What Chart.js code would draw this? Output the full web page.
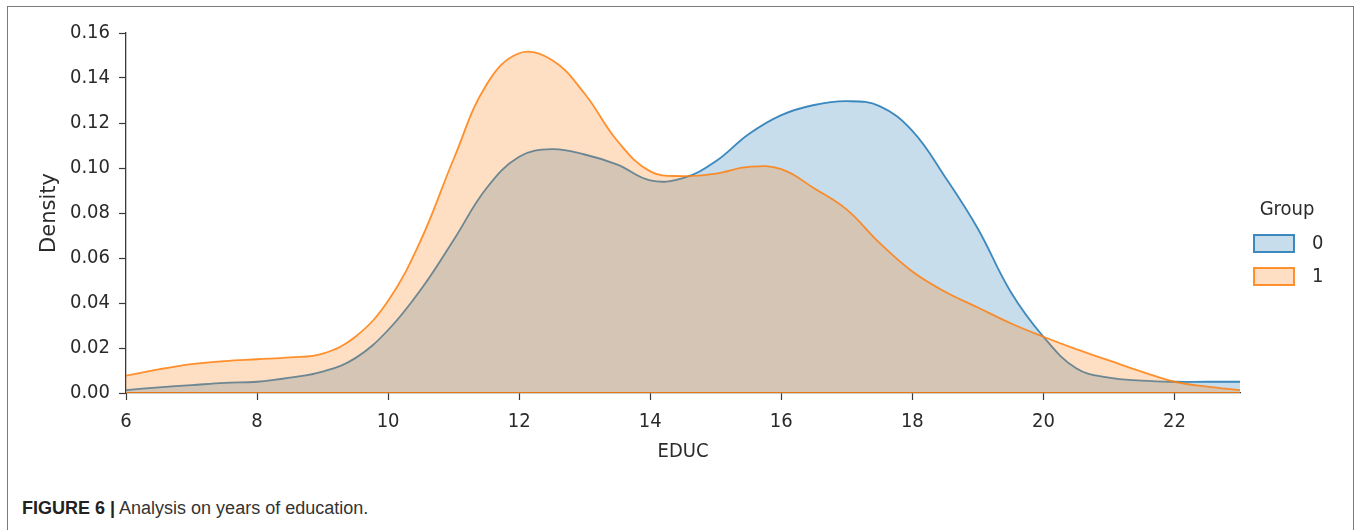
<!DOCTYPE html>
<html>
<head>
<meta charset="utf-8">
<script src="https://cdn.jsdelivr.net/npm/chart.js@4.4.1/dist/chart.umd.min.js"></script>
<style>
  html, body { margin: 0; padding: 0; background: #fff; width: 1360px; height: 530px; overflow: hidden; }
  #frame { position: absolute; left: 7px; top: 6px; width: 1345px; height: 600px; border: 1.5px solid #7a7a7a; }
  #wrap { position: absolute; left: 0; top: 0; width: 1360px; height: 470px; }
  #caption { position: absolute; left: 22px; top: 498px; font-family: "Liberation Sans", Arial, sans-serif; font-size: 18px; color: #333; white-space: nowrap; }
  #caption b { color: #222; }
</style>
</head>
<body>
<div id="frame"></div>
<div id="wrap"><canvas id="kdeChart"></canvas></div>
<div id="caption"><b>FIGURE 6 |</b> Analysis on years of education.</div>
<script>
// anos de educação (grade da curva)
const educ = [6, 6.5, 7, 7.5, 8, 8.5, 9, 9.5, 10, 10.5, 11, 11.5, 12, 12.5, 13, 13.5, 14, 14.5,
              15, 15.5, 16, 16.5, 17, 17.5, 18, 18.5, 19, 19.5, 20, 20.5, 21, 21.5, 22, 22.5, 23];
// densidade grupo 0
const group0 = [0.0013, 0.0025, 0.0035, 0.0045, 0.005, 0.0068, 0.0095, 0.0155, 0.028, 0.046, 0.068, 0.091,
                0.105, 0.1084, 0.106, 0.1015, 0.0945, 0.0955, 0.103, 0.115, 0.1235, 0.128, 0.1297, 0.1275,
                0.1165, 0.096, 0.073, 0.045, 0.025, 0.011, 0.0068, 0.0055, 0.005, 0.005, 0.005];
// densidade grupo 1
const group1 = [0.0077, 0.0105, 0.0128, 0.0142, 0.015, 0.0158, 0.0175, 0.025, 0.041, 0.068, 0.104, 0.137,
                0.151, 0.148, 0.133, 0.112, 0.0985, 0.0964, 0.0975, 0.1005, 0.0995, 0.091, 0.0815, 0.0667,
                0.054, 0.045, 0.038, 0.031, 0.025, 0.0195, 0.0145, 0.0095, 0.005, 0.0028, 0.0013];
const groupLabels = ['0', '1'];
const xTicks = [6, 8, 10, 12, 14, 16, 18, 20, 22];
const yTicks = [0, 0.02, 0.04, 0.06, 0.08, 0.10, 0.12, 0.14, 0.16];

const blueLine = 'rgba(31,119,180,0.85)';
const blueFill = 'rgba(31,119,180,0.25)';
const orangeLine = 'rgba(255,127,14,0.85)';
const orangeFill = 'rgba(255,127,14,0.25)';
const textColor = '#2b2b2b';
const axisColor = '#3a3a3a';
const tickFont = { family: '"DejaVu Sans Condensed", "DejaVu Sans", sans-serif', size: 20 };

function toPoints(ys) {
    return educ.map((x, i) => ({ x: x, y: ys[i] }));
}

// legenda desenhada à direita da área do gráfico
const groupLegend = {
    id: 'groupLegend',
    afterDraw(chart) {
        const ctx = chart.ctx;
        const r = chart.chartArea.right;
        ctx.save();
        ctx.font = '20px "DejaVu Sans Condensed", "DejaVu Sans", sans-serif';
        ctx.fillStyle = textColor;
        ctx.textAlign = 'center';
        ctx.textBaseline = 'middle';
        ctx.fillText('Group', r + 47, 210);
        const items = [
            { label: groupLabels[0], fill: blueFill, line: blueLine, y: 235 },
            { label: groupLabels[1], fill: orangeFill, line: orangeLine, y: 268 }
        ];
        items.forEach(it => {
            ctx.fillStyle = '#fff';
            ctx.fillRect(r + 14, it.y, 40, 17);
            ctx.fillStyle = it.fill;
            ctx.fillRect(r + 14, it.y, 40, 17);
            ctx.strokeStyle = it.line;
            ctx.lineWidth = 2;
            ctx.strokeRect(r + 14, it.y, 40, 17);
            ctx.fillStyle = textColor;
            ctx.textAlign = 'left';
            ctx.fillText(it.label, r + 72, it.y + 9);
        });
        ctx.restore();
    }
};

new Chart(document.getElementById('kdeChart'), {
    type: 'line',
    data: {
        datasets: [
            {
                label: 'base',
                data: [{ x: 6, y: 0 }, { x: 23, y: 0 }],
                borderColor: orangeLine,
                borderWidth: 2,
                pointRadius: 0,
                fill: false
            },
            {
                label: groupLabels[1],
                data: toPoints(group1),
                borderColor: orangeLine,
                backgroundColor: orangeFill,
                borderWidth: 1.8,
                pointRadius: 0,
                fill: 'origin',
                tension: 0.4
            },
            {
                label: groupLabels[0],
                data: toPoints(group0),
                borderColor: blueLine,
                backgroundColor: blueFill,
                borderWidth: 1.8,
                pointRadius: 0,
                fill: 'origin',
                tension: 0.4
            }
        ]
    },
    options: {
        responsive: true,
        maintainAspectRatio: false,
        animation: false,
        layout: { padding: { left: 0, top: 33, right: 120, bottom: 6 } },
        plugins: {
            legend: { display: false },
            tooltip: { enabled: false }
        },
        scales: {
            x: {
                type: 'linear',
                min: 6,
                max: 23,
                afterFit: s => { s.height = 71; },
                afterBuildTicks: s => { s.ticks = xTicks.map(v => ({ value: v })); },
                grid: { display: true, drawOnChartArea: false, drawTicks: true, tickLength: 7, tickColor: axisColor, tickWidth: 1.2 },
                border: { display: true, color: axisColor, width: 1.3 },
                ticks: { color: textColor, font: tickFont, padding: 10, maxRotation: 0 },
                title: { display: true, text: 'EDUC', color: textColor, font: tickFont, padding: { top: 4, bottom: 0 } }
            },
            y: {
                min: 0,
                max: 0.16,
                afterFit: s => { s.width = 126; },
                afterBuildTicks: s => { s.ticks = yTicks.map(v => ({ value: v })); },
                grid: { display: true, drawOnChartArea: false, drawTicks: true, tickLength: 7, tickColor: axisColor, tickWidth: 1.2 },
                border: { display: true, color: axisColor, width: 1.3 },
                ticks: { color: textColor, font: tickFont, padding: 9, callback: v => v.toFixed(2) },
                title: { display: true, text: 'Density', color: textColor,
                         font: { family: '"DejaVu Sans", sans-serif', size: 21 }, padding: { top: 37, bottom: 0 } }
            }
        }
    },
    plugins: [groupLegend]
});
</script>
</body>
</html>
